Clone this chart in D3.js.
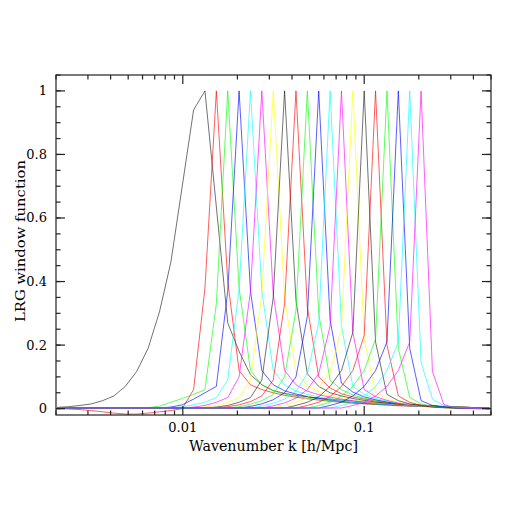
<!DOCTYPE html>
<html>
<head>
<meta charset="utf-8">
<script src="https://cdn.jsdelivr.net/npm/d3@7/dist/d3.min.js"></script>
<style>
  body { margin: 0; background: #fff; }
  text { font-family: "DejaVu Serif", "Liberation Serif", serif; fill: #000; }
</style>
</head>
<body>
<svg id="chart" width="518" height="518"></svg>
<script>
// k grid the windows are sampled on (h/Mpc)
var kGrid = [0.00203, 0.00234, 0.00271, 0.00313, 0.00361, 0.00417, 0.00482, 0.00557, 0.00644, 0.00744,
  0.00859, 0.00993, 0.01147, 0.01325, 0.01531, 0.01769, 0.02043, 0.02361, 0.02727, 0.03151,
  0.03640, 0.04206, 0.04859, 0.05613, 0.06485, 0.07492, 0.08656, 0.1, 0.1155, 0.1335,
  0.1542, 0.1782, 0.2058, 0.2378, 0.2747, 0.3174, 0.3667, 0.4236, 0.4894];

var bandColors = ["#000000", "#ff0000", "#00ff00", "#0000ff", "#00ffff", "#ff00ff", "#ffff00"];

// one row per band, values at kGrid
var windows = [
  [0.004, 0.006, 0.01, 0.015, 0.025, 0.04, 0.07, 0.117, 0.19, 0.305, 0.46, 0.70, 0.94, 1.0, 0.635, 0.27, 0.18, 0.107, 0.075, 0.057, 0.048, 0.042, 0.037, 0.033, 0.03, 0.027, 0.024, 0.021, 0.019, 0.017, 0.015, 0.013, 0.011, 0.009, 0.007, 0.005, 0.004, 0.003, 0.002],
  [0, -0.001, -0.003, -0.006, -0.01, -0.014, -0.017, -0.017, -0.014, -0.01, -0.006, 0, 0.06, 0.38, 1, 0.4, 0.12, 0.075, 0.06, 0.05, 0.042, 0.036, 0.031, 0.027, 0.023, 0.02, 0.017, 0.015, 0.013, 0.011, 0.009, 0.008, 0.007, 0.006, 0.005, 0.004, 0.003, 0.002, 0.001],
  [0.001, 0.001, 0.001, 0.001, 0.001, 0.001, 0.001, 0.001, 0.003, 0.008, 0.02, 0.032, 0.045, 0.06, 0.33, 1, 0.38, 0.12, 0.075, 0.056, 0.046, 0.039, 0.033, 0.028, 0.024, 0.021, 0.018, 0.016, 0.014, 0.012, 0.01, 0.009, 0.008, 0.007, 0.006, 0.005, 0.004, 0.003, 0.002],
  [0.002, 0.002, 0.002, 0.002, 0.002, 0.002, 0.002, 0.002, 0.002, 0.002, 0.005, 0.012, 0.03, 0.05, 0.07, 0.37, 1, 0.37, 0.12, 0.075, 0.056, 0.046, 0.038, 0.032, 0.027, 0.023, 0.02, 0.017, 0.015, 0.013, 0.011, 0.009, 0.008, 0.007, 0.006, 0.005, 0.004, 0.003, 0.002],
  [0.002, 0.002, 0.002, 0.002, 0.002, 0.002, 0.002, 0.002, 0.002, 0.002, 0.002, 0.006, 0.012, 0.02, 0.035, 0.09, 0.375, 1, 0.37, 0.12, 0.075, 0.055, 0.045, 0.037, 0.031, 0.026, 0.022, 0.019, 0.016, 0.014, 0.012, 0.01, 0.008, 0.007, 0.006, 0.005, 0.004, 0.003, 0.002],
  [0.002, 0.002, 0.002, 0.002, 0.002, 0.002, 0.002, 0.002, 0.002, 0.002, 0.002, 0.002, 0.005, 0.01, 0.02, 0.035, 0.1, 0.37, 1, 0.36, 0.12, 0.075, 0.055, 0.044, 0.036, 0.03, 0.025, 0.021, 0.018, 0.015, 0.013, 0.011, 0.009, 0.008, 0.006, 0.005, 0.004, 0.003, 0.002],
  [0.002, 0.002, 0.002, 0.002, 0.002, 0.002, 0.002, 0.002, 0.002, 0.002, 0.002, 0.002, 0.002, 0.005, 0.01, 0.02, 0.035, 0.09, 0.36, 1, 0.35, 0.115, 0.072, 0.053, 0.042, 0.034, 0.028, 0.023, 0.019, 0.016, 0.013, 0.011, 0.009, 0.008, 0.006, 0.005, 0.004, 0.003, 0.002],
  [0.002, 0.002, 0.002, 0.002, 0.002, 0.002, 0.002, 0.002, 0.002, 0.002, 0.002, 0.002, 0.002, 0.002, 0.005, 0.01, 0.02, 0.035, 0.09, 0.35, 1, 0.34, 0.11, 0.07, 0.05, 0.04, 0.032, 0.026, 0.021, 0.017, 0.014, 0.012, 0.01, 0.008, 0.006, 0.005, 0.004, 0.003, 0.002],
  [0.002, 0.002, 0.002, 0.002, 0.002, 0.002, 0.002, 0.002, 0.002, 0.002, 0.002, 0.002, 0.002, 0.002, 0.002, 0.006, 0.012, 0.022, 0.04, 0.09, 0.33, 1, 0.32, 0.1, 0.065, 0.047, 0.037, 0.03, 0.024, 0.019, 0.015, 0.012, 0.01, 0.008, 0.006, 0.005, 0.004, 0.003, 0.002],
  [0.002, 0.002, 0.002, 0.002, 0.002, 0.002, 0.002, 0.002, 0.002, 0.002, 0.002, 0.002, 0.002, 0.002, 0.002, 0.002, 0.006, 0.014, 0.025, 0.045, 0.1, 0.31, 1, 0.3, 0.09, 0.06, 0.043, 0.033, 0.026, 0.02, 0.016, 0.013, 0.01, 0.008, 0.006, 0.005, 0.004, 0.003, 0.002],
  [0.002, 0.002, 0.002, 0.002, 0.002, 0.002, 0.002, 0.002, 0.002, 0.002, 0.002, 0.002, 0.002, 0.002, 0.002, 0.002, 0.002, 0.007, 0.015, 0.028, 0.05, 0.1, 0.29, 1, 0.28, 0.08, 0.052, 0.037, 0.028, 0.021, 0.016, 0.012, 0.009, 0.007, 0.005, 0.004, 0.003, 0.002, 0.001],
  [0.002, 0.002, 0.002, 0.002, 0.002, 0.002, 0.002, 0.002, 0.002, 0.002, 0.002, 0.002, 0.002, 0.002, 0.002, 0.002, 0.002, 0.002, 0.008, 0.017, 0.03, 0.055, 0.11, 0.27, 1, 0.26, 0.07, 0.045, 0.032, 0.024, 0.017, 0.012, 0.009, 0.007, 0.005, 0.004, 0.003, 0.002, 0.001],
  [0.002, 0.002, 0.002, 0.002, 0.002, 0.002, 0.002, 0.002, 0.002, 0.002, 0.002, 0.002, 0.002, 0.002, 0.002, 0.002, 0.002, 0.002, 0.002, 0.009, 0.018, 0.033, 0.06, 0.11, 0.26, 1, 0.24, 0.06, 0.038, 0.026, 0.018, 0.012, 0.008, 0.006, 0.004, 0.003, 0.002, 0.001, 0.001],
  [0.002, 0.002, 0.002, 0.002, 0.002, 0.002, 0.002, 0.002, 0.002, 0.002, 0.002, 0.002, 0.002, 0.002, 0.002, 0.002, 0.002, 0.002, 0.002, 0.002, 0.01, 0.02, 0.035, 0.065, 0.115, 0.25, 1, 0.22, 0.05, 0.03, 0.02, 0.013, 0.008, 0.005, 0.003, 0.002, 0.001, 0.001, 0.001],
  [0.002, 0.002, 0.002, 0.002, 0.002, 0.002, 0.002, 0.002, 0.002, 0.002, 0.002, 0.002, 0.002, 0.002, 0.002, 0.002, 0.002, 0.002, 0.002, 0.002, 0.002, 0.01, 0.02, 0.037, 0.07, 0.12, 0.24, 1, 0.21, 0.045, 0.025, 0.015, 0.009, 0.005, 0.003, 0.002, 0.001, 0.001, 0.001],
  [0.002, 0.002, 0.002, 0.002, 0.002, 0.002, 0.002, 0.002, 0.002, 0.002, 0.002, 0.002, 0.002, 0.002, 0.002, 0.002, 0.002, 0.002, 0.002, 0.002, 0.002, 0.002, 0.01, 0.02, 0.038, 0.07, 0.12, 0.23, 1, 0.2, 0.04, 0.02, 0.01, 0.006, 0.003, 0.002, 0.001, 0.001, 0],
  [0.002, 0.002, 0.002, 0.002, 0.002, 0.002, 0.002, 0.002, 0.002, 0.002, 0.002, 0.002, 0.002, 0.002, 0.002, 0.002, 0.002, 0.002, 0.002, 0.002, 0.002, 0.002, 0.002, 0.01, 0.02, 0.04, 0.07, 0.12, 0.22, 1, 0.19, 0.035, 0.015, 0.007, 0.004, 0.002, 0.001, 0, 0],
  [0.002, 0.002, 0.002, 0.002, 0.002, 0.002, 0.002, 0.002, 0.002, 0.002, 0.002, 0.002, 0.002, 0.002, 0.002, 0.002, 0.002, 0.002, 0.002, 0.002, 0.002, 0.002, 0.002, 0.002, 0.01, 0.02, 0.04, 0.07, 0.12, 0.21, 1, 0.19, 0.025, 0.01, 0.005, 0.002, 0.001, 0, 0],
  [0.002, 0.002, 0.002, 0.002, 0.002, 0.002, 0.002, 0.002, 0.002, 0.002, 0.002, 0.002, 0.002, 0.002, 0.002, 0.002, 0.002, 0.002, 0.002, 0.002, 0.002, 0.002, 0.002, 0.002, 0.002, 0.01, 0.02, 0.04, 0.07, 0.12, 0.21, 1, 0.145, 0.03, 0.01, 0.004, 0.002, 0, 0],
  [0.002, 0.002, 0.002, 0.002, 0.002, 0.002, 0.002, 0.002, 0.002, 0.002, 0.002, 0.002, 0.002, 0.002, 0.002, 0.002, 0.002, 0.002, 0.002, 0.002, 0.002, 0.002, 0.002, 0.002, 0.002, 0.002, 0.01, 0.02, 0.04, 0.07, 0.12, 0.21, 1, 0.117, 0.013, 0.003, 0.001, 0, 0]
];

var xMajorTicks = [0.01, 0.1];
var xTickLabels = ["0.01", "0.1"];
var yMajorTicks = [0, 0.2, 0.4, 0.6, 0.8, 1];
var yTickLabels = ["0", "0.2", "0.4", "0.6", "0.8", "1"];
var yMinorTicks = d3.range(0, 1.0501, 0.05);

var svg = d3.select("#chart"),
  plotLeft = 56, plotRight = 491, plotTop = 75, plotBottom = 415;

var x = d3.scaleLog().domain([0.002, 0.5]).range([plotLeft, plotRight]);
var y = d3.scaleLinear().domain([-0.02, 1.05]).range([plotBottom, plotTop]);

svg.append("defs").append("clipPath").attr("id", "plotclip")
  .append("rect").attr("x", plotLeft).attr("y", plotTop)
  .attr("width", plotRight - plotLeft).attr("height", plotBottom - plotTop);

var line = d3.line()
  .x(function(d, i) { return x(kGrid[i]); })
  .y(function(d) { return y(d); });

svg.append("g")
  .attr("clip-path", "url(#plotclip)")
  .selectAll("path")
  .data(windows)
  .enter().append("path")
  .attr("d", line)
  .attr("fill", "none")
  .attr("stroke", function(d, i) { return bandColors[i % bandColors.length]; })
  .attr("stroke-opacity", function(d, i) { return i % 7 === 0 ? 0.7 : 0.8; })
  .attr("stroke-width", 0.8);

// frame
svg.append("rect")
  .attr("x", plotLeft).attr("y", plotTop)
  .attr("width", plotRight - plotLeft).attr("height", plotBottom - plotTop)
  .attr("fill", "none").attr("stroke", "#222").attr("stroke-width", 1.2);

var ticks = svg.append("g").attr("stroke", "#222").attr("stroke-width", 1.2);

// x ticks, top and bottom, pointing inward
var xMinor = x.ticks().filter(function(t) { return xMajorTicks.indexOf(t) < 0; });
function xTickLines(vals, len) {
  [plotBottom, plotTop].forEach(function(base) {
    var dir = base === plotBottom ? -1 : 1;
    ticks.selectAll(null).data(vals).enter().append("line")
      .attr("x1", function(d) { return x(d); })
      .attr("x2", function(d) { return x(d); })
      .attr("y1", base).attr("y2", base + dir * len);
  });
}
xTickLines(xMinor, 4.5);
xTickLines(xMajorTicks, 9);

function yTickLines(vals, len) {
  [plotLeft, plotRight].forEach(function(base) {
    var dir = base === plotLeft ? 1 : -1;
    ticks.selectAll(null).data(vals).enter().append("line")
      .attr("y1", function(d) { return y(d); })
      .attr("y2", function(d) { return y(d); })
      .attr("x1", base).attr("x2", base + dir * len);
  });
}
yTickLines(yMinorTicks, 4.5);
yTickLines(yMajorTicks, 9);

// labels
svg.selectAll(".xlab").data(xMajorTicks).enter().append("text")
  .attr("x", function(d) { return x(d); })
  .attr("y", 432)
  .attr("text-anchor", "middle")
  .style("font-size", "13px")
  .text(function(d, i) { return xTickLabels[i]; });

svg.selectAll(".ylab").data(yMajorTicks).enter().append("text")
  .attr("x", 47)
  .attr("y", function(d) { return y(d) + 4.5; })
  .attr("text-anchor", "end")
  .style("font-size", "13px")
  .text(function(d, i) { return yTickLabels[i]; });

svg.append("text")
  .attr("x", 273.5).attr("y", 451)
  .attr("text-anchor", "middle")
  .attr("textLength", 169).attr("lengthAdjust", "spacingAndGlyphs")
  .style("font-size", "14px")
  .text("Wavenumber k [h/Mpc]");

svg.append("text")
  .attr("transform", "translate(25,241) rotate(-90)")
  .attr("text-anchor", "middle")
  .attr("textLength", 162).attr("lengthAdjust", "spacingAndGlyphs")
  .style("font-size", "13.5px")
  .text("LRG window function");
</script>
</body>
</html>
